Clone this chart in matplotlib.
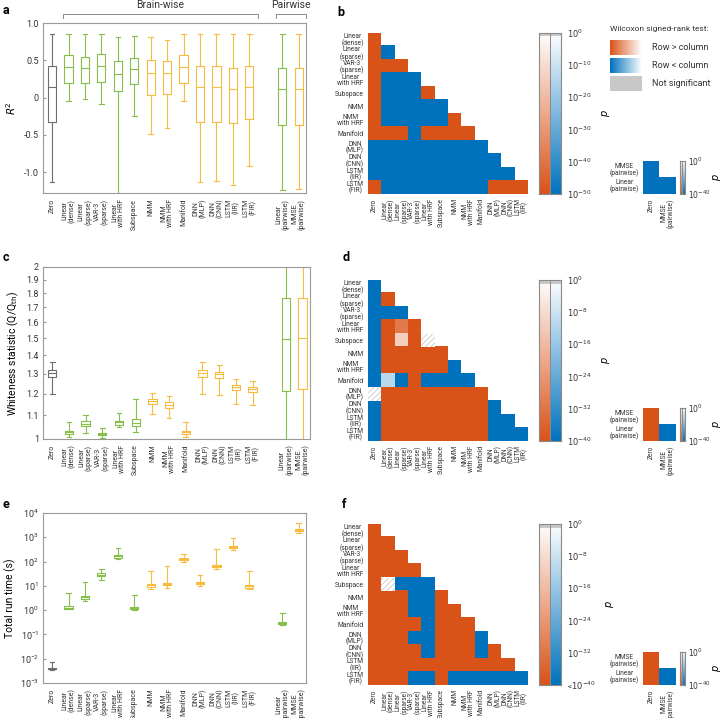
import numpy as np
import matplotlib
matplotlib.use("Agg")
import matplotlib.pyplot as plt
import matplotlib.patches as pat
from matplotlib.colors import to_rgb
from matplotlib.ticker import NullLocator, FixedLocator, FixedFormatter, LogLocator

plt.rcParams['font.family'] = ['Roboto', 'DejaVu Sans']
plt.rcParams['hatch.linewidth'] = 0.6
plt.rcParams['text.color'] = '#333333'
plt.rcParams['xtick.color'] = '#333333'
plt.rcParams['ytick.color'] = '#333333'

# ---------------- data ----------------
box_labels = ["Zero", "Linear\n(dense)", "Linear\n(sparse)", "VAR-3\n(sparse)", "Linear\nwith HRF",
              "Subspace", "NMM", "NMM\nwith HRF", "Manifold", "DNN\n(MLP)", "DNN\n(CNN)",
              "LSTM\n(IIR)", "LSTM\n(FIR)", "Linear\n(pairwise)", "MMSE\n(pairwise)"]
box_kind = ["zero", "lin", "lin", "lin", "lin", "lin", "nl", "nl", "nl", "nl", "nl", "nl", "nl", "lin", "nl"]
box_pos = [0, 1, 2, 3, 4, 5, 6, 7, 8, 9, 10, 11, 12, 14, 15]

# (whislo, q1, median, q3, whishi)
r2_stats = [(-1.13, -0.33, 0.15, 0.43, 0.85),
            (-0.05, 0.20, 0.41, 0.57, 0.86),
            (-0.02, 0.20, 0.40, 0.55, 0.86),
            (-0.08, 0.21, 0.43, 0.58, 0.86),
            (-1.60, 0.09, 0.32, 0.49, 0.82),
            (-0.25, 0.19, 0.38, 0.53, 0.83),
            (-0.49, 0.04, 0.33, 0.50, 0.81),
            (-0.41, 0.05, 0.33, 0.49, 0.78),
            (-0.05, 0.20, 0.41, 0.57, 0.86),
            (-1.13, -0.33, 0.15, 0.43, 0.85),
            (-1.12, -0.33, 0.15, 0.43, 0.85),
            (-1.17, -0.34, 0.12, 0.40, 0.85),
            (-0.91, -0.29, 0.14, 0.42, 0.85),
            (-1.24, -0.37, 0.11, 0.40, 0.86),
            (-1.23, -0.37, 0.11, 0.40, 0.86)]

white_stats = [(1.199, 1.282, 1.307, 1.320, 1.364),
               (1.009, 1.020, 1.027, 1.034, 1.070),
               (1.024, 1.052, 1.064, 1.074, 1.103),
               (1.004, 1.015, 1.020, 1.026, 1.045),
               (1.048, 1.060, 1.070, 1.074, 1.110),
               (1.029, 1.052, 1.066, 1.085, 1.177),
               (1.106, 1.151, 1.164, 1.175, 1.204),
               (1.088, 1.133, 1.148, 1.159, 1.188),
               (1.009, 1.020, 1.027, 1.034, 1.070),
               (1.199, 1.282, 1.305, 1.320, 1.364),
               (1.193, 1.276, 1.297, 1.310, 1.350),
               (1.151, 1.217, 1.233, 1.245, 1.274),
               (1.148, 1.210, 1.225, 1.233, 1.265),
               (0.950, 1.215, 1.496, 1.765, 2.600),
               (0.950, 1.223, 1.500, 1.765, 2.600)]

time_stats = [(0.0036, 0.0037, 0.0039, 0.0041, 0.0074),
              (1.10, 1.12, 1.27, 1.44, 5.1),
              (2.4, 2.9, 3.4, 4.0, 14),
              (18, 25, 28, 33, 50),
              (127, 145, 166, 182, 370),
              (0.97, 1.12, 1.26, 1.40, 4.1),
              (7.4, 9.3, 10.5, 12, 41),
              (8.2, 10.5, 12, 13.5, 65),
              (93, 116, 131, 145, 215),
              (10.2, 12, 13.5, 15, 28),
              (50, 58, 66, 74, 340),
              (310, 355, 400, 455, 940),
              (7.1, 8.5, 9.6, 11.2, 41),
              (0.245, 0.27, 0.30, 0.33, 0.77),
              (1510, 1770, 2000, 2280, 3870)]

hm_rows = ["Linear\n(dense)", "Linear\n(sparse)", "VAR-3\n(sparse)", "Linear\nwith HRF", "Subspace", "NMM",
           "NMM\nwith HRF", "Manifold", "DNN\n(MLP)", "DNN\n(CNN)", "LSTM\n(IIR)", "LSTM\n(FIR)"]
hm_cols = ["Zero", "Linear\n(dense)", "Linear\n(sparse)", "VAR-3\n(sparse)", "Linear\nwith HRF", "Subspace",
           "NMM", "NMM\nwith HRF", "Manifold", "DNN\n(MLP)", "DNN\n(CNN)", "LSTM\n(IIR)"]
pair_rows = ["MMSE\n(pairwise)", "Linear\n(pairwise)"]
pair_cols = ["Zero", "MMSE\n(pairwise)"]

# r: row > column, b: row < column, n: not significant
b_sign = ["r", "rb", "rrr", "rbbb", "rbbbr", "rbbbbb", "rbbbbbr", "rrrbrrrr",
          "bbbbbbbbb", "bbbbbbbbbb", "bbbbbbbbbbb", "rbbbbbbbbrrr"]
d_sign = ["b", "br", "bbb", "brrr", "brrrn", "brrrrr", "brrrrrb", "bbbrbbbb",
          "nrrrrrrrr", "brrrrrrrrb", "brrrrrrrrbb", "brrrrrrrrbbb"]
f_sign = ["r", "rr", "rrr", "rrrr", "rnbbb", "rrrbbr", "rrrbbrr", "rrrrbrrr",
          "rrrbbrrrb", "rrrrbrrrbr", "rrrrrrrrrrr", "rrrbbrbbbbbb"]
b_pair = ["b", "bb"]
d_pair = ["r", "rb"]
f_pair = ["r", "rb"]
# log10(p) of the cells that are not at the colour floor
d_logp = {(3, 2): -31, (4, 2): -11, (7, 1): -11}

orange = np.array(to_rgb('#d95319'))
blue = np.array(to_rgb('#0072bd'))
ns_gray = '#c8c8c8'
box_col = {"zero": '#6e6e6e', "lin": '#86bf4a', "nl": '#f6bb3f'}
spine_col = '#9a9a9a'


def style_box_axes(ax):
    for s in ax.spines.values():
        s.set_color(spine_col)
        s.set_linewidth(0.8)
    ax.tick_params(axis='y', direction='in', length=2.5, labelsize=6.5, color=spine_col, pad=3)
    ax.tick_params(axis='x', length=0, labelsize=5.0, pad=4)
    ax.set_xlim(-0.55, 15.45)
    ax.set_xticks(box_pos)
    ax.set_xticklabels(box_labels, rotation=90, linespacing=0.95, va='top', ha='center')


def draw_boxes(ax, stats):
    for pos, st, k in zip(box_pos, stats, box_kind):
        c = box_col[k]
        d = dict(whislo=st[0], q1=st[1], med=st[2], q3=st[3], whishi=st[4])
        lp = dict(color=c, linewidth=0.8)
        ax.bxp([d], positions=[pos], widths=0.5, capwidths=0.28, showfliers=False,
               boxprops=lp, whiskerprops=lp, capprops=lp, medianprops=lp)


def heatmap(ax, signs, rows, cols, floor, light={}, fs=4.8):
    nr, nc = len(rows), len(cols)
    img = np.zeros((nr, nc, 4))
    for i, s in enumerate(signs):
        for j, ch in enumerate(s):
            if ch == 'n':
                ax.add_patch(pat.Rectangle((j - 0.5, i - 0.5), 1, 1, facecolor='white',
                                           edgecolor=ns_gray, hatch='//////', lw=0))
                continue
            t = min(light.get((i, j), floor) / floor, 1.0)
            base = orange if ch == 'r' else blue
            img[i, j, :3] = 1 - t * (1 - base)
            img[i, j, 3] = 1
    ax.imshow(img, interpolation='nearest', aspect='auto', extent=(-0.5, nc - 0.5, nr - 0.5, -0.5), zorder=0)
    ax.set_xlim(-0.5, nc - 0.5)
    ax.set_ylim(nr - 0.5, -0.5)
    for s in ax.spines.values():
        s.set_visible(False)
    ax.set_yticks(range(nr))
    ax.set_yticklabels(rows, fontsize=fs, linespacing=0.85, multialignment='center')
    ax.set_xticks(range(nc))
    ax.set_xticklabels(cols, fontsize=fs, rotation=90, linespacing=0.85, va='top')
    ax.tick_params(length=0, pad=3)


def pbar(ax, floor, ticks, labels, fs=6, lab_pad=6, tpad=4):
    y = np.linspace(floor, 0, 400)
    t = np.clip(y / floor, 0, 1)
    img = np.zeros((len(y), 2, 3))
    for k, base in enumerate([orange, blue]):
        img[:, k, :] = 1 - t[:, None] * (1 - base)
    img[y > np.log10(0.05)] = to_rgb(ns_gray)
    ax.imshow(img, origin='lower', aspect='auto', extent=(0, 2, floor, 0), interpolation='nearest')
    ax.axvline(1, color='#8a8a8a', lw=0.7)
    for s in ax.spines.values():
        s.set_color('#8a8a8a')
        s.set_linewidth(0.8)
    ax.set_xticks([])
    ax.yaxis.tick_right()
    ax.set_yticks(ticks)
    ax.set_yticklabels(labels, fontsize=fs)
    ax.tick_params(axis='y', length=0, pad=tpad)
    ax.yaxis.set_label_position('right')
    ax.set_ylabel('$p$', fontsize=7, labelpad=lab_pad)


fig = plt.figure(figsize=(7.22, 7.18), dpi=100)

# ---------------- a ----------------
ax_a = fig.add_axes([0.0596, 0.731, 0.3643, 0.2368])
draw_boxes(ax_a, r2_stats)
style_box_axes(ax_a)
ax_a.set_ylim(-1.28, 1.0)
ax_a.set_yticks([1.0, 0.5, 0, -0.5, -1.0])
ax_a.set_yticklabels(["1.0", "0.5", "0", "-0.5", "-1.0"])
ax_a.set_ylabel('$R^2$', fontsize=7.5, labelpad=4)
tr = ax_a.get_xaxis_transform()
ax_a.plot([0.67, 0.67, 12.5, 12.5], [1.03, 1.055, 1.055, 1.03], transform=tr, clip_on=False, color='#8a8a8a', lw=0.7)
ax_a.plot([13.6, 13.6, 15.42, 15.42], [1.03, 1.055, 1.055, 1.03], transform=tr, clip_on=False, color='#8a8a8a', lw=0.7)
ax_a.text(6.6, 1.105, "Brain-wise", transform=tr, ha='center', va='center', fontsize=7.5)
ax_a.text(14.5, 1.105, "Pairwise", transform=tr, ha='center', va='center', fontsize=7.5)

# ---------------- c ----------------
ax_c = fig.add_axes([0.0596, 0.3886, 0.370, 0.2396])
draw_boxes(ax_c, white_stats)
style_box_axes(ax_c)
ax_c.set_yscale('log')
ax_c.set_ylim(1, 2)
cticks = [1, 1.1, 1.2, 1.3, 1.4, 1.5, 1.6, 1.7, 1.8, 1.9, 2]
ax_c.yaxis.set_major_locator(FixedLocator(cticks))
ax_c.yaxis.set_major_formatter(FixedFormatter(["1", "1.1", "1.2", "1.3", "1.4", "1.5", "1.6", "1.7", "1.8", "1.9", "2"]))
ax_c.yaxis.set_minor_locator(NullLocator())
ax_c.set_ylabel('Whiteness statistic (Q/Q$_{\\mathrm{th}}$)', fontsize=7.5, labelpad=4)

# ---------------- e ----------------
ax_e = fig.add_axes([0.0596, 0.0487, 0.3643, 0.2368])
draw_boxes(ax_e, time_stats)
style_box_axes(ax_e)
ax_e.set_yscale('log')
ax_e.set_ylim(1e-3, 1e4)
ax_e.yaxis.set_major_locator(LogLocator(base=10, numticks=10))
ax_e.yaxis.set_minor_locator(NullLocator())
ax_e.set_ylabel('Total run time (s)', fontsize=7.5, labelpad=3)

# ---------------- heatmaps ----------------
hm_bottoms = [0.7298, 0.3858, 0.046]
signs_all = [b_sign, d_sign, f_sign]
pairs_all = [b_pair, d_pair, f_pair]
floors = [-50, -40, -40]
light_all = [{}, d_logp, {}]
cb_ticks = [[0, -10, -20, -30, -40, -50], [0, -8, -16, -24, -32, -40], [0, -8, -16, -24, -32, -40]]
for k in range(3):
    b0 = hm_bottoms[k]
    axh = fig.add_axes([0.5097, b0, 0.2216, 0.2245])
    heatmap(axh, signs_all[k], hm_rows, hm_cols, floors[k], light_all[k])
    axcb = fig.add_axes([0.7465, b0, 0.0305, 0.2245])
    labs = ['$10^{%d}$' % v for v in cb_ticks[k]]
    if k == 2:
        labs[-1] = '<$10^{-40}$'
    pbar(axcb, floors[k], cb_ticks[k], labs)
    axp = fig.add_axes([0.8906, b0, 0.0457, 0.046])
    heatmap(axp, pairs_all[k], pair_rows, pair_cols, -40, fs=4.8)
    axpc = fig.add_axes([0.9418, b0, 0.0069, 0.046])
    pbar(axpc, -40, [0, -40], ['$10^{0}$', '$10^{-40}$'], fs=5.5, lab_pad=0, tpad=2.5)

# ---------------- legend ----------------
fig.text(0.845, 0.960, "Wilcoxon signed-rank test:", fontsize=6, va='center', ha='left')
sw_bottoms = [0.9234, 0.8983, 0.8733]
sw_text = ["Row > column", "Row < column", "Not significant"]
for k in range(3):
    axs = fig.add_axes([0.845, sw_bottoms[k], 0.043, 0.0209])
    g = np.linspace(1, 0, 100)
    if k < 2:
        base = [orange, blue][k]
        img = 1 - g[None, :, None] * (1 - base[None, None, :])
    else:
        img = np.ones((1, 100, 3)) * np.array(to_rgb(ns_gray))
    axs.imshow(img, aspect='auto', extent=(0, 1, 0, 1))
    axs.set_axis_off()
    fig.text(0.903, sw_bottoms[k] + 0.0105, sw_text[k], fontsize=6.5, va='center', ha='left')

# ---------------- panel letters ----------------
for lab, x, y in [("a", 0.003, 0.986), ("b", 0.467, 0.983), ("c", 0.003, 0.642),
                  ("d", 0.475, 0.641), ("e", 0.003, 0.297), ("f", 0.474, 0.297)]:
    fig.text(x, y, lab, fontsize=9, fontweight='bold', color='black', va='center', ha='left')

fig.savefig("out.png", dpi=100)
